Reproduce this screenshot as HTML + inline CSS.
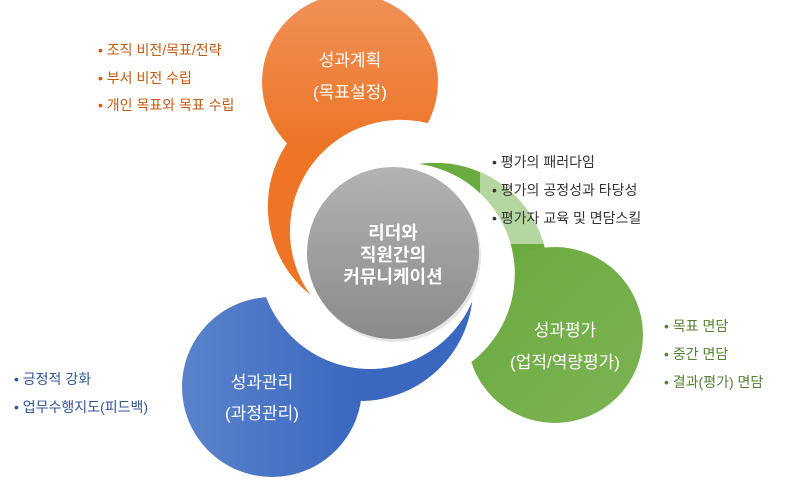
<!DOCTYPE html>
<html><head><meta charset="utf-8"><style>
html,body{margin:0;padding:0;background:#fff;}
svg{display:block;}
text{font-family:"Liberation Sans","Noto Sans CJK KR",sans-serif;}
</style></head><body>
<svg width="785" height="491" viewBox="0 0 785 491" xmlns="http://www.w3.org/2000/svg">
<defs>
<linearGradient id="go" x1="0" y1="0" x2="0" y2="1"><stop offset="0" stop-color="#f09157"/><stop offset="1" stop-color="#ec711f"/></linearGradient>
<linearGradient id="gg" x1="0" y1="0" x2="1" y2="1"><stop offset="0" stop-color="#6aaa3e"/><stop offset="1" stop-color="#7db354"/></linearGradient>
<linearGradient id="gb" x1="0" y1="0" x2="1" y2="0"><stop offset="0" stop-color="#5b83cb"/><stop offset="1" stop-color="#3a67c0"/></linearGradient>
<linearGradient id="gc" x1="0" y1="0" x2="0" y2="1"><stop offset="0" stop-color="#b3b3b3"/><stop offset="1" stop-color="#8a8a8a"/></linearGradient>
<clipPath id="sec"><polygon points="393,253 779,356 393,653 47,453"/></clipPath>
<clipPath id="lc"><rect x="480" y="168" width="64" height="76"/></clipPath>
<mask id="mb" maskUnits="userSpaceOnUse" x="0" y="0" width="785" height="491"><rect width="785" height="491" fill="#fff"/><circle cx="370" cy="258" r="111" fill="#000"/></mask>
<mask id="mo" maskUnits="userSpaceOnUse" x="0" y="0" width="785" height="491"><rect width="785" height="491" fill="#fff"/><circle cx="370" cy="258" r="111" fill="#000" transform="rotate(122 393 253)"/></mask>
<mask id="mg" maskUnits="userSpaceOnUse" x="0" y="0" width="785" height="491"><rect width="785" height="491" fill="#fff"/><circle cx="370" cy="258" r="111" fill="#000" transform="rotate(-105 393 253)"/></mask>
</defs>
<!-- orange -->
<g mask="url(#mo)">
<g transform="rotate(122 393 253)"><circle cx="360" cy="288" r="113" fill="#ee7526" clip-path="url(#sec)"/></g>
<circle cx="350" cy="82" r="88" fill="url(#go)"/>
</g>
<!-- green -->
<g mask="url(#mg)">
<g transform="rotate(-105 393 253)"><circle cx="360" cy="288" r="113" fill="#6aab3f" clip-path="url(#sec)"/></g>
<circle cx="555" cy="335" r="88" fill="url(#gg)"/>
<g clip-path="url(#lc)"><g transform="rotate(-105 393 253)"><circle cx="360" cy="288" r="113" fill="#b5d6a0" clip-path="url(#sec)"/></g></g>
</g>
<!-- blue -->
<g mask="url(#mb)">
<circle cx="360" cy="288" r="113" fill="#3a67c0" clip-path="url(#sec)"/>
<circle cx="272" cy="387" r="90" fill="url(#gb)"/>
</g>
<circle cx="395" cy="256" r="86" fill="#ccc" opacity="0.5"/>
<circle cx="393" cy="253" r="86" fill="url(#gc)"/>
<!-- circle texts -->
<g fill="#fff" font-size="17" text-anchor="middle">
<text x="350" y="66">성과계획</text>
<text x="350" y="98">(목표설정)</text>
<text x="565" y="336">성과평가</text>
<text x="565" y="368">(업적/역량평가)</text>
<text x="262" y="388">성과관리</text>
<text x="262" y="419">(과정관리)</text>
<g font-size="18" font-weight="bold">
<text x="393" y="239">리더와</text>
<text x="393" y="261">직원간의</text>
<text x="393" y="283">커뮤니케이션</text>
</g>
</g>
<g font-size="14" fill="#c55a11">
<text x="98" y="55">•  조직 비전/목표/전략</text>
<text x="98" y="83">•  부서 비전 수립</text>
<text x="98" y="110">•  개인 목표와 목표 수립</text>
</g>
<g font-size="14" fill="#333">
<text x="492" y="167">•  평가의 패러다임</text>
<text x="492" y="195">•  평가의 공정성과 타당성</text>
<text x="492" y="223">•  평가자 교육 및 면담스킬</text>
</g>
<g font-size="14" fill="#548235">
<text x="664" y="331">•  목표 면담</text>
<text x="664" y="359">•  중간 면담</text>
<text x="664" y="387">•  결과(평가) 면담</text>
</g>
<g font-size="14" fill="#2f5597">
<text x="14" y="384">•  긍정적 강화</text>
<text x="14" y="412">•  업무수행지도(피드백)</text>
</g>
</svg>
</body></html>
